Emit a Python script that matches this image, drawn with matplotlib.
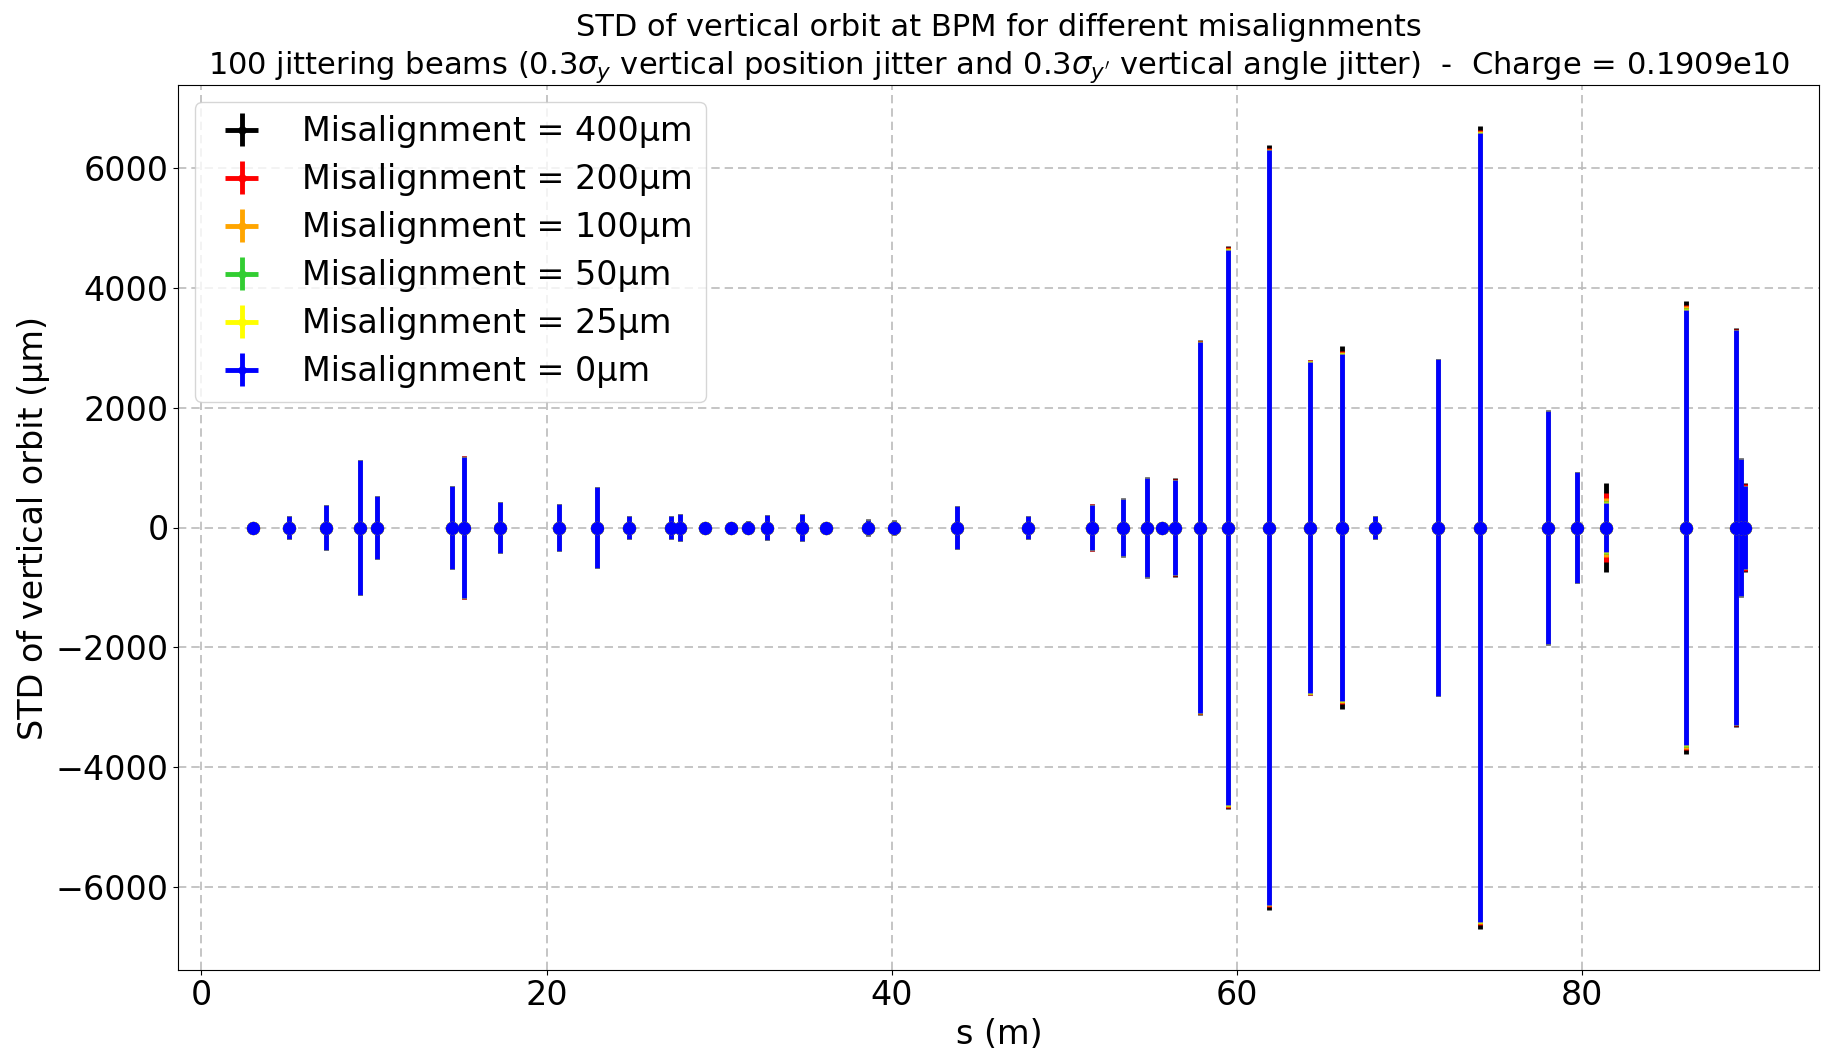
import numpy as np
import matplotlib.pyplot as plt

# BPM positions along the line (m)
s_bpm = [3.0, 5.1, 7.2, 9.2, 10.2, 14.5, 15.2, 17.3, 20.7, 22.9,
         24.8, 27.2, 27.75, 29.2, 30.7, 31.7, 32.8, 34.8, 36.2, 38.65,
         40.1, 43.8, 47.9, 51.6, 53.4, 54.8, 55.65, 56.4, 57.85, 59.45,
         61.85, 64.25, 66.1, 68.0, 71.65, 74.05, 78.0, 79.7, 81.4, 86.0,
         88.9, 89.2, 89.4]

# STD of vertical orbit (um) for each misalignment
std_400um = [10, 190, 378, 1135, 530, 688, 1188, 430, 400, 680,
             200, 188, 228, 5, 15, 115, 208, 232, 5, 135,
             118, 362, 198, 398, 485, 845, 5, 820, 3135, 4700,
             6390, 2800, 3030, 200, 2820, 6710, 1955, 935, 745, 3790,
             3325, 1155, 750]
std_200um = [10, 188, 377, 1135, 530, 686, 1186, 429, 398, 678,
             190, 186, 226, 5, 15, 112, 206, 231, 5, 132,
             116, 361, 196, 395, 482, 830, 5, 805, 3120, 4680,
             6330, 2790, 2940, 197, 2815, 6630, 1952, 932, 580, 3720,
             3310, 1152, 720]
std_100um = [10, 186, 376, 1125, 525, 685, 1185, 428, 396, 676,
             186, 185, 225, 5, 15, 110, 205, 230, 5, 130,
             115, 360, 195, 380, 480, 822, 5, 795, 3110, 4660,
             6315, 2785, 2930, 195, 2812, 6615, 1950, 930, 495, 3700,
             3305, 1150, 700]
std_50um = [10, 185, 375, 1120, 520, 685, 1185, 428, 394, 674,
            185, 185, 225, 5, 15, 110, 205, 230, 5, 130,
            115, 360, 195, 372, 480, 820, 5, 792, 3102, 4645,
            6305, 2775, 2915, 195, 2810, 6600, 1950, 930, 440, 3660,
            3305, 1150, 692]
std_25um = [10, 185, 375, 1120, 520, 685, 1185, 428, 400, 680,
            185, 185, 225, 5, 15, 110, 205, 230, 5, 130,
            115, 360, 195, 372, 480, 820, 5, 792, 3102, 4645,
            6302, 2772, 2920, 195, 2810, 6600, 1950, 930, 425, 3650,
            3305, 1150, 690]
std_0um = [10, 185, 375, 1120, 520, 685, 1185, 428, 385, 670,
           185, 185, 225, 5, 15, 110, 205, 230, 5, 130,
           115, 360, 195, 370, 480, 820, 5, 790, 3100, 4640,
           6300, 2770, 2890, 195, 2810, 6580, 1950, 930, 410, 3635,
           3305, 1150, 690]

series = [('400µm', std_400um, 'black'),
          ('200µm', std_200um, 'red'),
          ('100µm', std_100um, 'orange'),
          ('50µm', std_50um, 'limegreen'),
          ('25µm', std_25um, 'yellow'),
          ('0µm', std_0um, 'blue')]

fig, ax = plt.subplots(figsize=(18.21, 10.55), dpi=100)
plt.subplots_adjust(left=0.098, right=0.999, top=0.919, bottom=0.081)

for label, std, color in series:
    ax.errorbar(s_bpm, np.zeros(len(s_bpm)), yerr=std, xerr=0, fmt='o',
                color=color, markersize=8.5, elinewidth=3.5,
                label='Misalignment = ' + label)

ax.set_title('STD of vertical orbit at BPM for different misalignments\n'
             r"100 jittering beams ($0.3\sigma_y$ vertical position jitter and "
             r"$0.3\sigma_{y'}$ vertical angle jitter)  -  Charge = 0.1909e10",
             fontsize=22, linespacing=1.3)
ax.set_xlabel('s (m)', fontsize=24)
ax.set_ylabel('STD of vertical orbit (µm)', fontsize=24)
ax.tick_params(labelsize=24)
ax.grid(True, linestyle=(0, (5, 3)), color='#bbbbbb', linewidth=1.2)
ax.legend(loc='upper left', fontsize=24, markerscale=0.6, labelspacing=0.45)

plt.savefig('out.png')
